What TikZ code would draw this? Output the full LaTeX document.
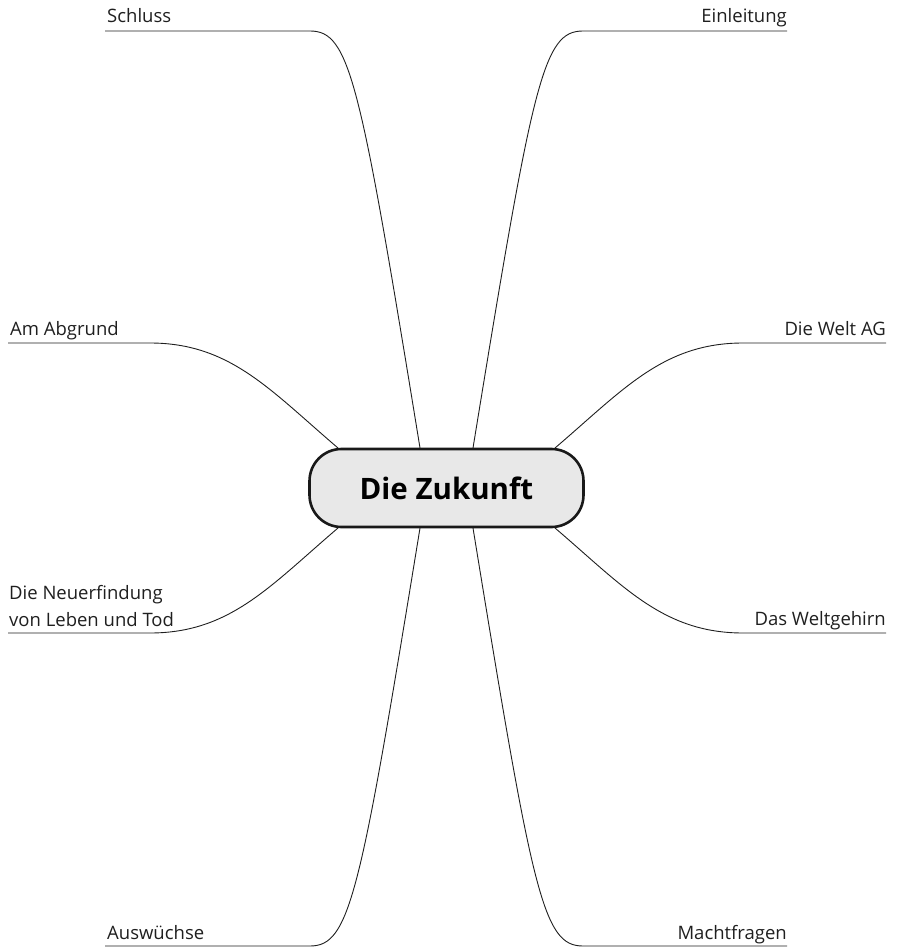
\documentclass[tikz,border=0pt]{standalone}
\usepackage{fontspec}
\setmainfont{Open Sans}
\begin{document}
\begin{tikzpicture}[x=1pt,y=-1pt,
  branch/.style={line width=0.9pt,draw=black!88},
  topic/.style={inner sep=0pt,font=\fontsize{18.5}{27}\selectfont,text=black!88,align=left},
  core/.style={draw=black!90,line width=2.6pt,fill=gray!18,rounded corners=32pt,
    minimum width=274pt,minimum height=78pt,inner sep=0pt,
    font=\fontsize{29.5}{34}\selectfont\bfseries}]
\useasboundingbox (0,0) rectangle (896,949);

% central topic
\node[core] (c) at (446.5,488) {Die Zukunft};

% attachment points on the central box
\coordinate (cTL) at (420,448);
\coordinate (cTR) at (473,448);
\coordinate (cBL) at (420,528);
\coordinate (cBR) at (473,528);
\coordinate (cLT) at (338,448);
\coordinate (cRT) at (555,448);
\coordinate (cLB) at (338,528);
\coordinate (cRB) at (555,528);

% branch labels
\node[topic,anchor=base west] (schluss) at (107,23) {Schluss};
\node[topic,anchor=base east] (einl) at (787,23) {Einleitung};
\node[topic,anchor=base west] (abgrund) at (10,335) {Am Abgrund};
\node[topic,anchor=base east] (welt) at (886,335) {Die Welt AG};
\node[topic,anchor=south west] (neu) at (9,627) {Die Neuerfindung\\von Leben und Tod};
\node[topic,anchor=base east] (hirn) at (886,625) {Das Weltgehirn};
\node[topic,anchor=base west] (ausw) at (107,939) {Auswüchse};
\node[topic,anchor=base east] (macht) at (787,939) {Machtfragen};

% underline ends
\coordinate (uSch) at (105,31);
\coordinate (uEin) at (787,31);
\coordinate (uAbg) at (8,343);
\coordinate (uWel) at (886,343);
\coordinate (uNeu) at (8,633);
\coordinate (uHir) at (886,633);
\coordinate (uAus) at (105,946);
\coordinate (uMac) at (787,946);

% branches
\draw[branch] (cTL) .. controls (360,80) and (350,31) .. (310,31) -- (uSch);
\draw[branch] (cTR) .. controls (533,80) and (543,31) .. (583,31) -- (uEin);
\draw[branch] (cLT) .. controls (270,390) and (230,343) .. (150,343) -- (uAbg);
\draw[branch] (cRT) .. controls (623,390) and (663,343) .. (743,343) -- (uWel);
\draw[branch] (cLB) .. controls (270,586) and (230,633) .. (150,633) -- (uNeu);
\draw[branch] (cRB) .. controls (623,586) and (663,633) .. (743,633) -- (uHir);
\draw[branch] (cBL) .. controls (360,896) and (350,946) .. (310,946) -- (uAus);
\draw[branch] (cBR) .. controls (533,896) and (543,946) .. (583,946) -- (uMac);
\end{tikzpicture}
\end{document}
